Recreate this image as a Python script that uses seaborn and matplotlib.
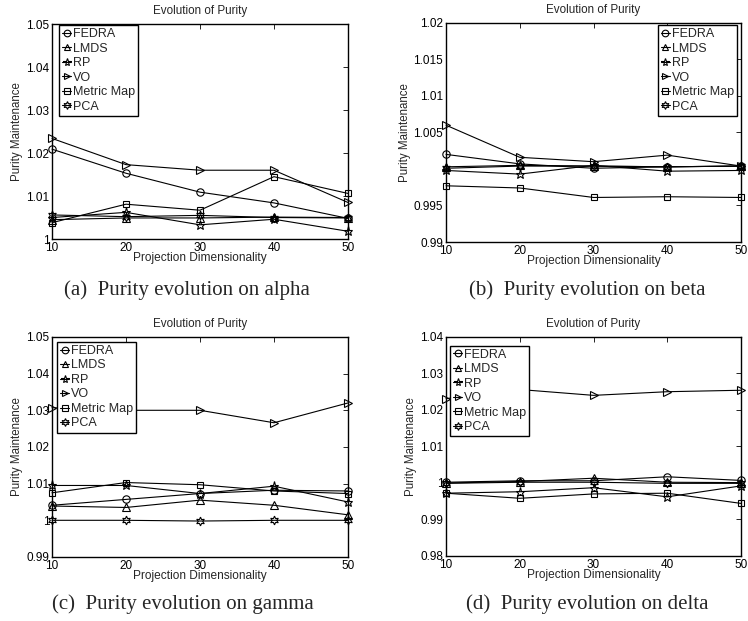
import numpy as np
import pandas as pd
import seaborn as sns
import matplotlib.pyplot as plt
from matplotlib.ticker import FuncFormatter

# projection dimensionality (x axis)
dims = [10, 20, 30, 40, 50]
methods = ["FEDRA", "LMDS", "RP", "VO", "Metric Map", "PCA"]

# (a) alpha
fedra_a = [1.0209, 1.0153, 1.0109, 1.0084, 1.0048]
lmds_a = [1.0045, 1.0049, 1.0049, 1.0051, 1.0050]
rp_a = [1.0050, 1.0062, 1.0033, 1.0046, 1.0018]
vo_a = [1.0234, 1.0173, 1.0160, 1.0160, 1.0085]
mm_a = [1.0038, 1.0081, 1.0067, 1.0145, 1.0106]
pca_a = [1.0056, 1.0052, 1.0055, 1.0050, 1.0049]

# (b) beta
fedra_b = [1.0020, 1.0007, 1.0001, 1.0003, 1.0004]
lmds_b = [1.0003, 1.0005, 1.0004, 1.0003, 1.0004]
rp_b = [0.9998, 0.9993, 1.0005, 0.9997, 0.9998]
vo_b = [1.0060, 1.0016, 1.0010, 1.0019, 1.0004]
mm_b = [0.9977, 0.9974, 0.9961, 0.9962, 0.9961]
pca_b = [1.0001, 1.0004, 1.0004, 1.0003, 1.0004]

# (c) gamma
fedra_c = [1.0041, 1.0057, 1.0073, 1.0082, 1.0080]
lmds_c = [1.0039, 1.0035, 1.0055, 1.0041, 1.0015]
rp_c = [1.0095, 1.0095, 1.0073, 1.0093, 1.0050]
vo_c = [1.0307, 1.0300, 1.0300, 1.0266, 1.0320]
mm_c = [1.0075, 1.0103, 1.0097, 1.0080, 1.0073]
pca_c = [1.0000, 1.0000, 0.9998, 1.0000, 1.0000]

# (d) delta
fedra_d = [1.0002, 1.0006, 1.0006, 1.0017, 1.0007]
lmds_d = [1.0000, 1.0004, 1.0013, 1.0002, 1.0001]
rp_d = [0.9972, 0.9976, 0.9987, 0.9962, 0.9992]
vo_d = [1.0231, 1.0256, 1.0240, 1.0250, 1.0254]
mm_d = [0.9972, 0.9958, 0.9970, 0.9972, 0.9944]
pca_d = [0.9999, 1.0002, 1.0002, 0.9999, 0.9999]

captions = ["(a)  Purity evolution on alpha", "(b)  Purity evolution on beta",
            "(c)  Purity evolution on gamma", "(d)  Purity evolution on delta"]
ylims = [(1.0, 1.05), (0.99, 1.02), (0.99, 1.05), (0.98, 1.04)]
ysteps = [0.01, 0.005, 0.01, 0.01]

series = [
    [fedra_a, lmds_a, rp_a, vo_a, mm_a, pca_a],
    [fedra_b, lmds_b, rp_b, vo_b, mm_b, pca_b],
    [fedra_c, lmds_c, rp_c, vo_c, mm_c, pca_c],
    [fedra_d, lmds_d, rp_d, vo_d, mm_d, pca_d],
]

markers = ["o", "^", "*", ">", "s", (6, 1, 0)]
msizes = [5.3, 5.3, 6.5, 5.3, 4.6, 6.3]

sns.set_style("white")
plt.rcParams["font.family"] = ["Liberation Sans", "DejaVu Sans"]

fig = plt.figure(figsize=(7.48, 6.21), dpi=100)
positions = [
    [0.0695, 0.6151, 0.3957, 0.3462],
    [0.5963, 0.6103, 0.3944, 0.3527],
    [0.0695, 0.1031, 0.3957, 0.3543],
    [0.5963, 0.1047, 0.3944, 0.3527],
]
# legend anchor (axes fraction) and corner
leg_loc = ["upper left", "upper right", "upper left", "upper left"]
leg_anchor = [(0.024, 0.995), (0.986, 0.99), (0.017, 0.978), (0.014, 0.96)]
cap_xy = [(187, 290), (587, 290), (183, 604), (587, 604)]


def make_fmt(hide_one):
    def fmt(v, pos):
        if hide_one and abs(v - 1.0) < 1e-9:
            return ""
        return "%g" % round(v, 4)
    return fmt


for i in range(4):
    ax = fig.add_axes(positions[i])
    rows = []
    for m, vals in zip(methods, series[i]):
        for d, v in zip(dims, vals):
            rows.append({"dim": d, "purity": v, "method": m})
    df = pd.DataFrame(rows)
    for j, m in enumerate(methods):
        sub = df[df["method"] == m]
        sns.lineplot(data=sub, x="dim", y="purity", ax=ax, color="black",
                     linewidth=0.8, marker=markers[j], markersize=msizes[j],
                     markerfacecolor="none", markeredgecolor="black",
                     markeredgewidth=0.8, label=m, clip_on=False)
    ax.set_xlim(10, 50)
    ax.set_ylim(*ylims[i])
    ax.set_xticks(dims)
    ax.set_yticks(np.arange(ylims[i][0], ylims[i][1] + 1e-9, ysteps[i]))
    ax.yaxis.set_major_formatter(FuncFormatter(make_fmt(i == 1)))
    ax.tick_params(direction="in", length=3.5, width=0.6, labelsize=8.5,
                   top=True, right=True, pad=2, colors="black")
    for s in ax.spines.values():
        s.set_color("black")
        s.set_linewidth(1.0)
        s.set_zorder(3)
    ax.set_title("Evolution of Purity", fontsize=8.4, pad=7)
    ax.set_xlabel("Projection Dimensionality", fontsize=8.6, labelpad=-1)
    ax.set_ylabel("Purity Maintenance", fontsize=8.3, labelpad=2)
    leg = ax.legend(loc=leg_loc[i], bbox_to_anchor=leg_anchor[i],
                    fontsize=9.0, frameon=True, framealpha=1,
                    fancybox=False, edgecolor="black", handlelength=0.7,
                    handletextpad=0.15, borderpad=0.25, labelspacing=0.2,
                    borderaxespad=0, markerscale=0.9)
    leg.get_frame().set_linewidth(1.0)
    leg.set_zorder(5)
    fig.text(cap_xy[i][0] / 748, 1 - cap_xy[i][1] / 621, captions[i],
             ha="center", va="center", fontsize=15,
             family=["Liberation Serif", "DejaVu Serif"])

plt.savefig("out.png", dpi=100)
plt.close()
